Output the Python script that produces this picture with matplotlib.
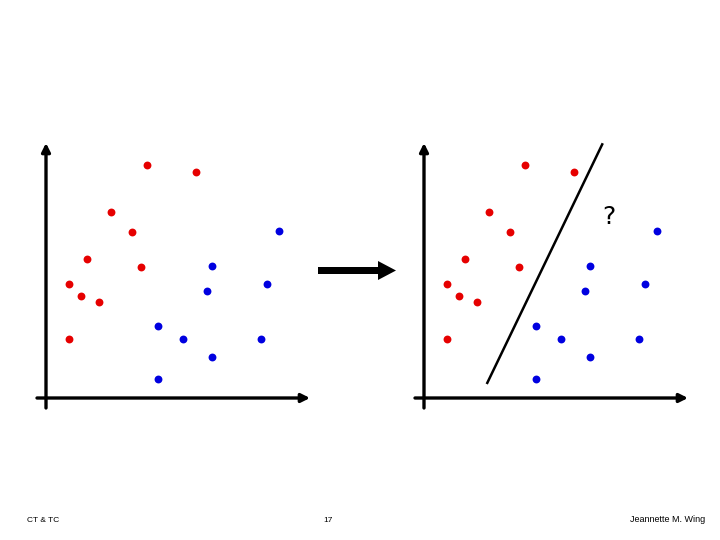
import matplotlib
matplotlib.use("Agg")
import matplotlib.pyplot as plt
from matplotlib.patches import FancyArrow

# Data (arbitrary units, origin at axis crossing)
red_x = [4.05, 5.99, 2.59, 3.44, 1.64, 3.80, 0.92, 1.40, 2.12, 0.92]
red_y = [9.32, 9.05, 7.43, 6.65, 5.55, 5.25, 4.55, 4.07, 3.83, 2.37]
blue_x = [9.33, 6.63, 8.83, 6.44, 4.47, 5.47, 8.59, 6.65, 4.47]
blue_y = [6.68, 5.29, 4.55, 4.29, 2.89, 2.37, 2.37, 1.65, 0.75]
sep_x = [2.51, 7.15]
sep_y = [0.56, 10.19]
question_pos = (7.40, 7.25)

footer_left = "CT & TC"
footer_mid = "17"
footer_right = "Jeannette M. Wing"

RED = "#e60000"
BLUE = "#0000e0"

W, H = 720, 540
fig = plt.figure(figsize=(7.2, 5.4), dpi=100)
fig.patch.set_facecolor("white")

def panel(left_px):
    # axes covers pixel box [left_px-16, left_px+274] x [130, 420]
    x0, x1 = left_px - 16, left_px + 274
    y0, y1 = 130, 420
    ax = fig.add_axes([x0 / W, 1 - y1 / H, (x1 - x0) / W, (y1 - y0) / H])
    ax.set_xlim(-16 / 25, 274 / 25)
    ax.set_ylim((398 - 420) / 25, (398 - 130) / 25)
    ax.axis("off")
    # axis arrows
    ax.annotate("", xy=(10.56, 0), xytext=(-0.36, 0),
                arrowprops=dict(arrowstyle="-|>,head_length=0.5,head_width=0.25",
                                lw=2.4, color="black", shrinkA=0, shrinkB=0))
    ax.annotate("", xy=(0, 10.2), xytext=(0, -0.4),
                arrowprops=dict(arrowstyle="-|>,head_length=0.5,head_width=0.25",
                                lw=2.4, color="black", shrinkA=0, shrinkB=0))
    ax.scatter(red_x, red_y, s=32, color=RED, zorder=3, linewidths=0)
    ax.scatter(blue_x, blue_y, s=32, color=BLUE, zorder=3, linewidths=0)
    return ax

ax1 = panel(46)
ax2 = panel(424)
ax2.plot(sep_x, sep_y, color="black", lw=1.8, solid_capstyle="butt")
ax2.text(question_pos[0], question_pos[1], "?", fontsize=18, ha="center",
         va="center", color="black", family="DejaVu Sans")

# middle arrow (figure overlay axes in pixel coords)
ov = fig.add_axes([0, 0, 1, 1])
ov.set_xlim(0, W)
ov.set_ylim(H, 0)
ov.axis("off")
ov.add_patch(FancyArrow(318, 270.5, 78, 0, width=7, head_width=19,
                        head_length=18, length_includes_head=True,
                        color="black", lw=0))

ov.text(27, 520, footer_left, fontsize=6, ha="left", va="center", family="Liberation Sans")
ov.text(328, 520, footer_mid, fontsize=6, ha="center", va="center", family="Liberation Sans")
ov.text(705, 520, footer_right, fontsize=6.5, ha="right", va="center", family="Liberation Sans")

fig.savefig("out.png", dpi=100, facecolor="white")
